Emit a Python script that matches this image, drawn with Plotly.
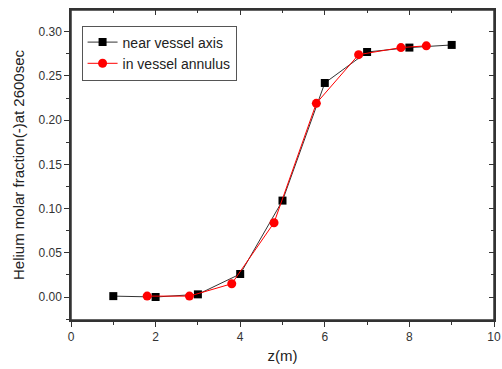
import plotly.graph_objects as go

axis_z = [1, 2, 3, 4, 5, 6, 7, 8, 9]
axis_he = [0.001, 0.000, 0.003, 0.026, 0.109, 0.242, 0.277, 0.282, 0.285]
annulus_z = [1.8, 2.8, 3.8, 4.8, 5.8, 6.8, 7.8, 8.4]
annulus_he = [0.001, 0.001, 0.015, 0.084, 0.219, 0.274, 0.282, 0.284]
x_ticks = [0, 2, 4, 6, 8, 10]
y_ticks = [0.00, 0.05, 0.10, 0.15, 0.20, 0.25, 0.30]

fig = go.Figure()
fig.add_trace(go.Scatter(x=axis_z, y=axis_he, mode="lines+markers", name="near vessel axis",
                         line=dict(color="#333333", width=1),
                         marker=dict(symbol="square", size=8, color="black")))
fig.add_trace(go.Scatter(x=annulus_z, y=annulus_he, mode="lines+markers", name="in vessel annulus",
                         line=dict(color="red", width=1),
                         marker=dict(symbol="circle", size=9, color="red")))
# invisible trace to anchor mirrored axes
fig.add_trace(go.Scatter(x=axis_z, y=axis_he, xaxis="x2", yaxis="y2", mode="markers",
                         marker=dict(opacity=0), showlegend=False, hoverinfo="skip"))

tickfont = dict(family="Liberation Sans, Arial", size=12, color="#333333")
hidden = dict(size=1, color="rgba(0,0,0,0)")
fig.update_layout(
    width=502, height=369,
    margin=dict(l=71, r=8, t=10, b=49, autoexpand=False),
    paper_bgcolor="white", plot_bgcolor="white",
    font=dict(family="Liberation Sans, Arial", color="#222222"),
    xaxis=dict(range=[0, 10], tickvals=x_ticks, ticktext=[str(v) for v in x_ticks],
               ticks="outside", ticklen=5, tickwidth=1, tickcolor="#333",
               minor=dict(dtick=1, ticks="outside", ticklen=3, tickcolor="#333"),
               showline=True, linecolor="#333", linewidth=1.5, showgrid=False, zeroline=False,
               tickfont=tickfont, automargin=False,
               title=dict(text="z(m)", font=dict(size=15, color="#222"), standoff=7)),
    yaxis=dict(range=[-0.026, 0.3245], tickvals=y_ticks, ticktext=[f"{v:.2f}" for v in y_ticks],
               ticks="outside", ticklen=5, tickwidth=1, tickcolor="#333",
               minor=dict(dtick=0.025, tick0=0, ticks="outside", ticklen=3, tickcolor="#333"),
               showline=True, linecolor="#333", linewidth=1.5, showgrid=False, zeroline=False,
               tickfont=tickfont, automargin=False,
               title=dict(text="Helium molar fraction(-)at 2600sec", font=dict(size=15, color="#222"), standoff=10)),
    xaxis2=dict(range=[0, 10], overlaying="x", side="top", tickvals=x_ticks, tickfont=hidden,
                ticks="inside", ticklen=5, tickcolor="#333",
                minor=dict(dtick=1, ticks="inside", ticklen=3, tickcolor="#333"),
                showline=True, linecolor="#333", linewidth=1.5, showgrid=False, zeroline=False),
    yaxis2=dict(range=[-0.026, 0.3245], overlaying="y", side="right", tickvals=y_ticks, tickfont=hidden,
                ticks="inside", ticklen=5, tickcolor="#333",
                minor=dict(dtick=0.025, tick0=0, ticks="inside", ticklen=3, tickcolor="#333"),
                showline=True, linecolor="#333", linewidth=1.5, showgrid=False, zeroline=False),
    legend=dict(x=0.025, y=0.95, xanchor="left", yanchor="top",
                bordercolor="#555", borderwidth=1, bgcolor="white",
                font=dict(size=14, color="#222"), tracegroupgap=0, itemwidth=30),
    showlegend=True,
    shapes=[dict(type="rect", xref="paper", yref="paper", x0=0, x1=1, y0=0, y1=1,
                 line=dict(color="#333", width=1.5), layer="above")],
)

fig.write_html("out.html", config=dict(displayModeBar=False),
               post_script="document.body.style.margin='0';document.body.style.padding='0';")
